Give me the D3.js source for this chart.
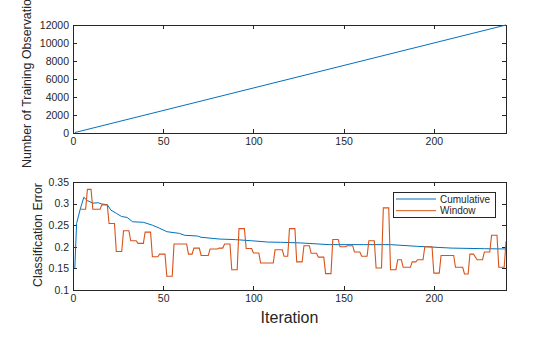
<!DOCTYPE html>
<html><head><meta charset="utf-8">
<script src="https://cdn.jsdelivr.net/npm/d3@7"></script>
<style>html,body{margin:0;padding:0;background:#fff;}svg{display:block;}</style>
</head><body>
<script>
// ---- data ----
const obsIter = [1, 240];
const obsCount = [50, 12000];
const xTicks = [0, 50, 100, 150, 200];
const obsTicks = [0, 2000, 4000, 6000, 8000, 10000, 12000];
const errTicks = [0.1, 0.15, 0.2, 0.25, 0.3, 0.35];
const errTickLabels = ["0.1", "0.15", "0.2", "0.25", "0.3", "0.35"];
const seriesNames = ["Cumulative", "Window"];

const cumIter = [1,2,4,6,8,11,14,16,19,21,24,27,30,33,39,44,48,52,59,62,69,71,81,90,99,108,115,126,142,161,176,191,210,228,240];
const cumVal = [0.150,0.254,0.287,0.3146,0.307,0.301,0.302,0.299,0.2975,0.285,0.2775,0.270,0.268,0.258,0.2567,0.250,0.243,0.235,0.231,0.2266,0.225,0.222,0.218,0.2166,0.214,0.211,0.2104,0.209,0.205,0.205,0.205,0.201,0.197,0.1956,0.195];

const winStart = [4,8,11,16,20,24,28,32,36,40,44,48,52,56,64,67,71,76,81,84,88,92,96,100,104,112,117,120,124,128,132,136,140,144,148,152,156,160,164,168,172,176,180,183,188,191,195,200,204,208,212,217,220,224,228,232,236,240];
const winEnd   = [7,10,15,19,23,27,31,35,39,43,47,51,55,63,66,70,75,80,83,87,91,95,99,103,111,116,119,123,127,131,135,139,143,147,151,155,159,163,167,171,175,179,182,187,190,194,199,203,207,211,216,219,222,227,231,235,239,240];
const winVal   = [0.287,0.333,0.287,0.297,0.254,0.189,0.237,0.214,0.208,0.234,0.177,0.183,0.132,0.2065,0.183,0.197,0.180,0.195,0.197,0.2065,0.147,0.242,0.196,0.1856,0.1625,0.193,0.178,0.242,0.165,0.2025,0.185,0.176,0.138,0.217,0.200,0.2025,0.188,0.178,0.214,0.151,0.290,0.147,0.170,0.1525,0.165,0.170,0.200,0.139,0.180,0.180,0.1525,0.137,0.183,0.170,0.188,0.2266,0.1525,0.212];

// ---- drawing ----
const W = 560, H = 337;
const FONT = "'Liberation Sans', Arial, Helvetica, sans-serif";
const AX = "#262626";
const BLUE = "#0072BD", ORANGE = "#D95319";

const svg = d3.select("body").append("svg").attr("width", W).attr("height", H)
  .style("font-family", FONT);

const x = d3.scaleLinear().domain([0, 240]).range([73, 506]);
const yTop = d3.scaleLinear().domain([0, 12000]).range([133, 25]);
const yBot = d3.scaleLinear().domain([0.1, 0.35]).range([290, 182]);

function drawAxes(y, yTicks, yFmt) {
  const [y0, y1] = y.range();
  const g = svg.append("g");
  // box
  g.append("rect").attr("x", x.range()[0]).attr("y", y1)
    .attr("width", x.range()[1] - x.range()[0]).attr("height", y0 - y1)
    .attr("fill", "none").attr("stroke", AX).attr("stroke-width", 1)
    .attr("shape-rendering", "crispEdges");
  const style = sel => {
    sel.select(".domain").remove();
    sel.selectAll("line").attr("stroke", AX).attr("shape-rendering", "crispEdges");
    sel.selectAll("text").attr("fill", AX).style("font-size", "10.5px").style("font-family", FONT);
  };
  g.append("g").attr("transform", `translate(0,${y0})`)
    .call(d3.axisBottom(x).tickValues(xTicks).tickSizeInner(-4).tickSizeOuter(0).tickPadding(5).tickFormat(d3.format("d"))).call(style);
  g.append("g").attr("transform", `translate(0,${y1})`)
    .call(d3.axisTop(x).tickValues(xTicks).tickSizeInner(-4).tickSizeOuter(0).tickFormat("")).call(style);
  g.append("g").attr("transform", `translate(${x.range()[0]},0)`)
    .call(d3.axisLeft(y).tickValues(yTicks).tickSizeInner(-4).tickSizeOuter(0).tickPadding(4).tickFormat(yFmt)).call(style);
  g.append("g").attr("transform", `translate(${x.range()[1]},0)`)
    .call(d3.axisRight(y).tickValues(yTicks).tickSizeInner(-4).tickSizeOuter(0).tickFormat("")).call(style);
}

drawAxes(yTop, obsTicks, d3.format("d"));
drawAxes(yBot, errTicks, (d, i) => errTickLabels[i]);

// top line
const topData = obsIter.map((it, i) => [it, obsCount[i]]);
svg.append("path").datum(topData)
  .attr("fill", "none").attr("stroke", BLUE).attr("stroke-width", 1)
  .attr("d", d3.line().x(d => x(d[0])).y(d => yTop(d[1])));

// bottom lines
const clip = svg.append("clipPath").attr("id", "cb").append("rect")
  .attr("x", 73).attr("y", 182).attr("width", 433).attr("height", 108);

const cumData = cumIter.map((it, i) => [it, cumVal[i]]);
const winData = [];
winStart.forEach((s, i) => { winData.push([s, winVal[i]]); if (winEnd[i] !== s) winData.push([winEnd[i], winVal[i]]); });

const lineB = d3.line().x(d => x(d[0])).y(d => yBot(d[1]));
svg.append("path").datum(cumData).attr("clip-path", "url(#cb)")
  .attr("fill", "none").attr("stroke", BLUE).attr("stroke-width", 1).attr("d", lineB);
svg.append("path").datum(winData).attr("clip-path", "url(#cb)")
  .attr("fill", "none").attr("stroke", ORANGE).attr("stroke-width", 1.1).attr("d", lineB);

// labels
svg.append("text").attr("transform", "translate(31,77) rotate(-90)")
  .attr("text-anchor", "middle").attr("fill", AX).style("font-size", "12.4px")
  .text("Number of Training Observations");
svg.append("text").attr("transform", "translate(42,235) rotate(-90)")
  .attr("text-anchor", "middle").attr("fill", AX).style("font-size", "12.4px")
  .text("Classification Error");
svg.append("text").attr("x", 289.5).attr("y", 323)
  .attr("text-anchor", "middle").attr("fill", AX).style("font-size", "16px")
  .text("Iteration");

// legend
const lg = svg.append("g");
lg.append("rect").attr("x", 393.5).attr("y", 192.5).attr("width", 102).attr("height", 25)
  .attr("fill", "#fff").attr("stroke", AX).attr("stroke-width", 1);
const colors = [BLUE, ORANGE];
seriesNames.forEach((n, i) => {
  const yy = 199 + i * 11.7;
  lg.append("line").attr("x1", 396).attr("x2", 436).attr("y1", yy).attr("y2", yy)
    .attr("stroke", colors[i]).attr("stroke-width", 1);
  lg.append("text").attr("x", 440).attr("y", yy + 3.6).attr("fill", AX)
    .style("font-size", "10px").text(n);
});
</script>
</body></html>
